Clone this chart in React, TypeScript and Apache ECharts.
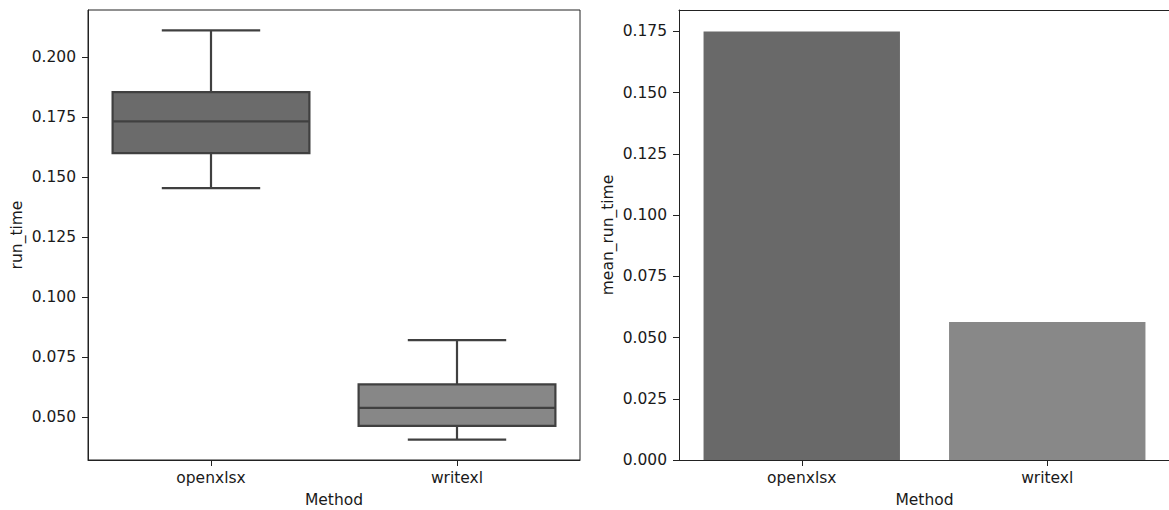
import React, { useEffect, useRef } from "react";
import * as echarts from "echarts";

// Run-time samples per writer method (box statistics) and their means
const methods = ["openxlsx", "writexl"];
const runTimeMin = [0.1454, 0.0406];
const runTimeQ1 = [0.16, 0.0463];
const runTimeMedian = [0.1732, 0.0538];
const runTimeQ3 = [0.1854, 0.0636];
const runTimeMax = [0.2111, 0.082];
const meanRunTime = [0.175, 0.0563];

const runTimeTicks = [0.05, 0.075, 0.1, 0.125, 0.15, 0.175, 0.2];
const meanTicks = [0, 0.025, 0.05, 0.075, 0.1, 0.125, 0.15, 0.175];

const boxFill = ["#6b6b6b", "#878787"];
const barFill = ["#696969", "#888888"];
const lineColor = "#404040";
const spineColor = "#222222";
const textColor = "#1a1a1a";
const fontFamily = "'DejaVu Sans', sans-serif";
const fontSize = 15.5;

// 5% padding around the data range, like the default autoscaling
const lo = Math.min(...runTimeMin);
const hi = Math.max(...runTimeMax);
const pad = (hi - lo) * 0.05;
const runTimeAxisMin = lo - pad;
const runTimeAxisMax = hi + pad;
const meanAxisMax = Math.max(...meanRunTime) * 1.05;

const fmt = (v: number) => v.toFixed(3);

function categoryAxis(gridIndex: number) {
  return {
    type: "category",
    gridIndex,
    data: methods,
    boundaryGap: true,
    name: "Method",
    nameLocation: "middle",
    nameGap: 32,
    nameTextStyle: { color: textColor, fontFamily, fontSize, lineHeight: 16 },
    axisLine: { show: true, lineStyle: { color: spineColor, width: 1 } },
    axisTick: { show: true, alignWithLabel: true, length: 6, lineStyle: { color: spineColor, width: 1 } },
    axisLabel: { color: textColor, fontFamily, fontSize, margin: 10 },
    splitLine: { show: false },
  };
}

// Plain spine along the top of a panel
function topSpine(gridIndex: number) {
  return {
    type: "category",
    gridIndex,
    position: "top",
    data: methods,
    axisLine: { show: true, lineStyle: { color: spineColor, width: 1 } },
    axisTick: { show: false },
    axisLabel: { show: false },
    splitLine: { show: false },
  };
}

function valueAxis(gridIndex: number, name: string, min: number, max: number, ticks: number[]) {
  return {
    type: "value",
    gridIndex,
    min,
    max,
    name,
    nameLocation: "middle",
    nameGap: 63,
    nameRotate: 90,
    nameTextStyle: { color: textColor, fontFamily, fontSize },
    axisLine: { show: true, lineStyle: { color: spineColor, width: 1 } },
    axisTick: { show: true, length: 6, customValues: ticks, lineStyle: { color: spineColor, width: 1 } },
    axisLabel: {
      color: textColor,
      fontFamily,
      fontSize,
      margin: 12,
      customValues: ticks,
      formatter: (v: number) => fmt(v),
    },
    splitLine: { show: false },
  };
}

export default function App() {
  const ref = useRef<HTMLDivElement>(null);

  useEffect(() => {
    document.body.style.margin = "0";
    if (!ref.current) return;
    const chart = echarts.init(ref.current, undefined, { renderer: "svg" });

    const boxData = methods.map((_, i) => [
      i,
      runTimeMin[i],
      runTimeQ1[i],
      runTimeMedian[i],
      runTimeQ3[i],
      runTimeMax[i],
    ]);

    const gridBase = {
      top: 10,
      height: 450,
      containLabel: false,
      outerBoundsMode: "none",
    };

    chart.setOption({
      animation: false,
      backgroundColor: "#ffffff",
      textStyle: { fontFamily },
      grid: [
        { ...gridBase, left: 88, width: 492, show: true, borderColor: spineColor, borderWidth: 1 },
        // the right panel reaches the page edge, so it has no right spine
        { ...gridBase, left: 679, width: 491, show: false },
      ],
      xAxis: [categoryAxis(0), categoryAxis(1), topSpine(1)],
      yAxis: [
        valueAxis(0, "run_time", runTimeAxisMin, runTimeAxisMax, runTimeTicks),
        valueAxis(1, "mean_run_time", 0, meanAxisMax, meanTicks),
      ],
      series: [
        {
          type: "custom",
          xAxisIndex: 0,
          yAxisIndex: 0,
          data: boxData,
          encode: { x: 0, y: [1, 2, 3, 4, 5] },
          renderItem: (params: any, api: any) => {
            const i = api.value(0);
            const band = api.size([1, 0])[0];
            const half = band * 0.4;
            const capHalf = band * 0.2;
            const cx = api.coord([i, api.value(3)])[0];
            const yMin = api.coord([i, api.value(1)])[1];
            const yQ1 = api.coord([i, api.value(2)])[1];
            const yMed = api.coord([i, api.value(3)])[1];
            const yQ3 = api.coord([i, api.value(4)])[1];
            const yMax = api.coord([i, api.value(5)])[1];
            const ls = { stroke: lineColor, lineWidth: 2.2, fill: null };
            return {
              type: "group",
              children: [
                { type: "line", shape: { x1: cx, y1: yMax, x2: cx, y2: yQ3 }, style: ls },
                { type: "line", shape: { x1: cx, y1: yQ1, x2: cx, y2: yMin }, style: ls },
                { type: "line", shape: { x1: cx - capHalf, y1: yMax, x2: cx + capHalf, y2: yMax }, style: ls },
                { type: "line", shape: { x1: cx - capHalf, y1: yMin, x2: cx + capHalf, y2: yMin }, style: ls },
                {
                  type: "rect",
                  shape: { x: cx - half, y: yQ3, width: half * 2, height: yQ1 - yQ3 },
                  style: { fill: boxFill[params.dataIndex], stroke: lineColor, lineWidth: 2.2 },
                },
                { type: "line", shape: { x1: cx - half, y1: yMed, x2: cx + half, y2: yMed }, style: ls },
              ],
            };
          },
        },
        {
          type: "bar",
          xAxisIndex: 1,
          yAxisIndex: 1,
          barWidth: "80%",
          data: meanRunTime.map((v, i) => ({ value: v, itemStyle: { color: barFill[i] } })),
        },
      ],
    });

    return () => chart.dispose();
  }, []);

  return <div ref={ref} style={{ width: 1169, height: 510 }} />;
}
